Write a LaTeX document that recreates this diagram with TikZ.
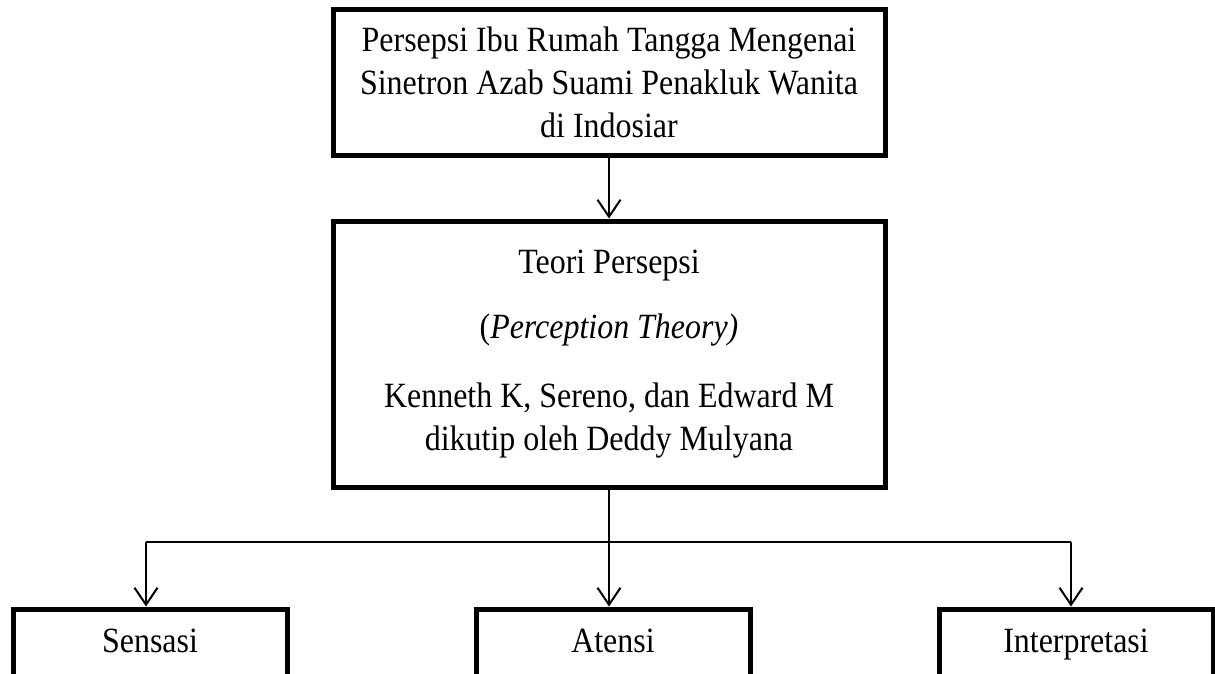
\documentclass[tikz,border=0pt]{standalone}
\usepackage{fontspec}
\setmainfont{Liberation Serif}[FakeStretch=0.9]
\usetikzlibrary{arrows.meta}
\begin{document}
\begin{tikzpicture}[x=1pt,y=-1pt,
  box/.style={draw,line width=5pt,minimum width=552pt,align=center,inner sep=0pt,
    font=\fontsize{35.5}{43}\selectfont},
  bbox/.style={draw,line width=5pt,minimum width=274pt,inner xsep=0pt,inner ysep=0pt,
    text height=43pt,text depth=50pt,anchor=base,font=\fontsize{35.5}{43}\selectfont},
  arr/.style={line width=2pt,-{Straight Barb[length=17pt,width=23pt,line width=2pt]}},
  hline/.style={line width=1.5pt}]
\useasboundingbox (0,0) rectangle (1215,673);
\clip (0,0) rectangle (1215,673);
\node[box,minimum height=146pt] (top) at (609,82.5)
  {Persepsi Ibu Rumah Tangga Mengenai\\Sinetron Azab Suami Penakluk Wanita\\di Indosiar};
\node[box,minimum height=266pt] (mid) at (609,354)
  {Teori Persepsi\\[22pt](\textit{Perception Theory)}\\[26pt]Kenneth K, Sereno, dan Edward M\\dikutip oleh Deddy Mulyana};
\node[bbox] (sen) at (150,652) {Sensasi};
\node[bbox] (ate) at (613,652) {Atensi};
\node[bbox] (int) at (1076,652) {Interpretasi};
\coordinate (hl) at (146,542);
\coordinate (hr) at (1071,542);
\draw[arr] (top) -- (mid);
\draw[hline] (hl) -- (hr);
\draw[arr] (mid.south) -- (mid.south |- ate.north);
\draw[arr] (hl) -- (hl |- sen.north);
\draw[arr] (hr) -- (hr |- int.north);
\end{tikzpicture}
\end{document}
